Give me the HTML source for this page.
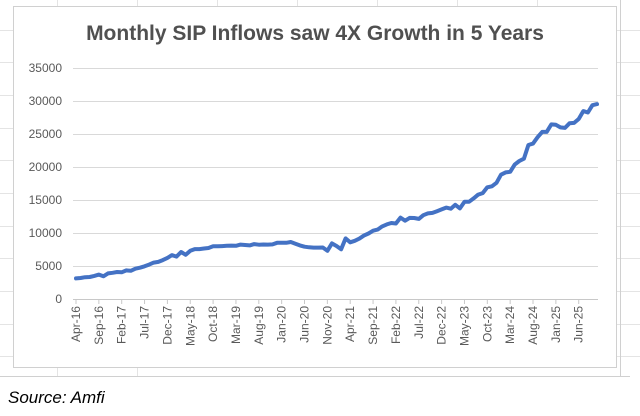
<!DOCTYPE html>
<html><head><meta charset="utf-8"><style>
body{margin:0;background:#fff;width:640px;height:411px;overflow:hidden;font-family:"Liberation Sans",sans-serif}
</style></head><body>
<svg width="640" height="411" xmlns="http://www.w3.org/2000/svg">
<g id="sheet" stroke="#e4e4e4" stroke-width="1"></g>
<line x1="620.5" y1="0" x2="620.5" y2="376" stroke="#d0d0d0"/>
<rect x="13.5" y="6.5" width="603" height="361" fill="#fff" stroke="#d0d0d0"/>
<text x="315" y="40" text-anchor="middle" font-size="21" font-weight="bold" fill="#505050">Monthly SIP Inflows  saw 4X Growth in 5 Years</text>
<g id="grid"></g>
<g id="xaxis"></g>
<path id="line" fill="none" stroke="#4472C4" stroke-width="4" stroke-linejoin="round" stroke-linecap="round"/>
<line x1="0" y1="376.5" x2="630" y2="376.5" stroke="#d0d0d0"/>
<text x="8" y="403" font-size="17" font-style="italic" fill="#000">Source: Amfi</text>
</svg>
<script>
const values = [3122,3189,3310,3334,3497,3698,3434,3884,3973,4095,4050,4335,
4269,4584,4744,4947,5206,5516,5621,5893,6222,6644,6425,7119,
6690,7304,7554,7554,7658,7727,7985,7985,8022,8064,8095,8055,
8238,8183,8122,8324,8231,8263,8246,8273,8518,8532,8513,8641,
8376,8123,7917,7831,7792,7788,7800,7302,8418,8023,7528,9182,
8596,8819,9156,9609,9923,10351,10519,11005,11305,11517,11438,12328,
11863,12286,12276,12140,12693,12976,13041,13306,13573,13856,13686,14276,
13728,14749,14734,15245,15814,16042,16928,17073,17610,18838,19187,19271,
20371,20904,21262,23332,23547,24509,25323,25320,26459,26400,25999,25926,
26632,26688,27269,28464,28265,29361,29529];
const monthNames = ["Jan","Feb","Mar","Apr","May","Jun","Jul","Aug","Sep","Oct","Nov","Dec"];
const yTicks = [0,5000,10000,15000,20000,25000,30000,35000];
const startMonth = 3, startYear = 16;
const NS="http://www.w3.org/2000/svg";
const X0=76, X1=597, Y0=299, Y1=68, YMAX=35000;
const x = i => X0 + i*(X1-X0)/(values.length-1);
const y = v => Y0 - v/YMAX*(Y0-Y1);
function mk(t,a,p){const e=document.createElementNS(NS,t);for(const k in a)e.setAttribute(k,a[k]);p.appendChild(e);return e;}
const sheet=document.getElementById('sheet');
[57,137,217,297,377,457,537].forEach(v=>mk('line',{x1:v+.5,y1:0,x2:v+.5,y2:6},sheet));
[57,137].forEach(v=>mk('line',{x1:v+.5,y1:368,x2:v+.5,y2:376},sheet));
[30,62,95,128,160,193,226,258,291,324,356].forEach(v=>{mk('line',{x1:0,y1:v+.5,x2:13,y2:v+.5},sheet);mk('line',{x1:617,y1:v+.5,x2:640,y2:v+.5},sheet);});
const grid=document.getElementById('grid');
yTicks.forEach(t=>{
  const l=mk('line',{x1:73,x2:598,y1:y(t)+.5,y2:y(t)+.5,stroke:t===0?'#c8c8c8':'#d9d9d9'},grid);
  
  
  const tx=mk('text',{x:62,y:y(t)+4,'text-anchor':'end','font-size':'12',fill:'#595959'},grid);
  tx.textContent=t;
  
  
});
const xa=document.getElementById('xaxis');
for(let i=0;i<values.length;i+=5){
  const m=(startMonth+i)%12, yr=startYear+Math.floor((startMonth+i)/12);
  mk('line',{x1:x(i),x2:x(i),y1:299,y2:304,stroke:'#c8c8c8'},xa);
  const t=mk('text',{transform:`translate(${x(i)+4},306) rotate(-90)`,'text-anchor':'end','font-size':'12',fill:'#595959'},xa);
  t.textContent=monthNames[m]+'-'+yr;
  
  
}
document.getElementById('line').setAttribute('d',values.map((v,i)=>(i?'L':'M')+x(i).toFixed(1)+' '+y(v).toFixed(1)).join(''));
</script>
</body></html>
